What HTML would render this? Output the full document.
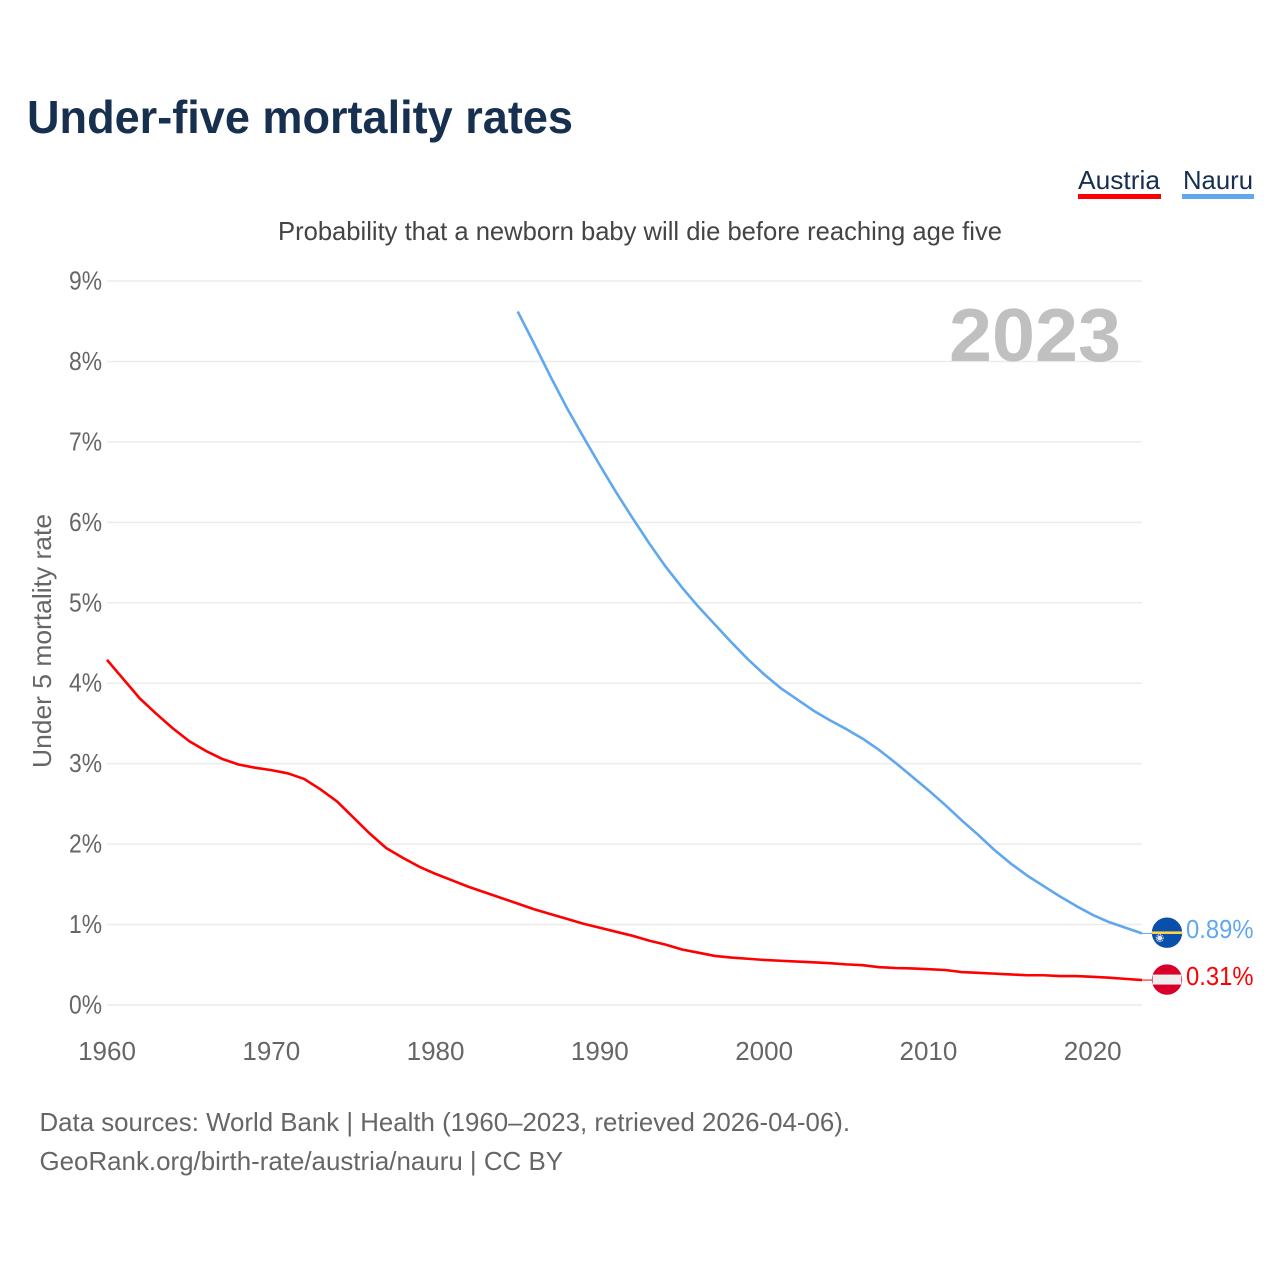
<!DOCTYPE html>
<html lang="en">
<head>
<meta charset="utf-8">
<title>Under-five mortality rates</title>
<style>
html,body{margin:0;padding:0;background:#fff;}
svg{display:block;}
text{font-family:"Liberation Sans",sans-serif;}
</style>
</head>
<body>
<svg id="chart" xmlns="http://www.w3.org/2000/svg" width="1280" height="1280" viewBox="0 0 1280 1280">
  <rect x="0" y="0" width="1280" height="1280" fill="#ffffff"/>
  <text x="27" y="133" font-size="46" font-weight="700" fill="#17304f" textLength="546" lengthAdjust="spacingAndGlyphs">Under-five mortality rates</text>
  <g>
    <text x="1078" y="189" font-size="26" fill="#17304f" textLength="82" lengthAdjust="spacingAndGlyphs">Austria</text>
    <rect x="1078" y="194" width="83" height="5" fill="#ff0000"/>
  </g>
  <g>
    <text x="1183" y="189" font-size="26" fill="#17304f" textLength="70" lengthAdjust="spacingAndGlyphs">Nauru</text>
    <rect x="1182" y="194" width="72" height="5" fill="#5fa8ee"/>
  </g>
  <text x="278" y="240" font-size="26" fill="#444444" textLength="724" lengthAdjust="spacingAndGlyphs">Probability that a newborn baby will die before reaching age five</text>
  <g id="grid"></g>
  <g id="yticks"></g>
  <g id="xticks"></g>
  <text transform="translate(51,641) rotate(-90)" text-anchor="middle" font-size="26" fill="#666666" textLength="254" lengthAdjust="spacingAndGlyphs">Under 5 mortality rate</text>
  <text x="949" y="361" font-size="75" font-weight="700" fill="#c0c0c0" textLength="172" lengthAdjust="spacingAndGlyphs">2023</text>
  <g id="series"></g>
  <g id="endmarks"></g>
  <text x="39.5" y="1131" font-size="26" fill="#666666" textLength="810.5" lengthAdjust="spacingAndGlyphs">Data sources: World Bank | Health (1960–2023, retrieved 2026-04-06).</text>
  <text x="39.5" y="1170" font-size="26" fill="#666666" textLength="523.5" lengthAdjust="spacingAndGlyphs">GeoRank.org/birth-rate/austria/nauru | CC BY</text>
</svg>
<script>
const years = [1960,1961,1962,1963,1964,1965,1966,1967,1968,1969,1970,1971,1972,1973,1974,1975,1976,1977,1978,1979,1980,1981,1982,1983,1984,1985,1986,1987,1988,1989,1990,1991,1992,1993,1994,1995,1996,1997,1998,1999,2000,2001,2002,2003,2004,2005,2006,2007,2008,2009,2010,2011,2012,2013,2014,2015,2016,2017,2018,2019,2020,2021,2022,2023];
const austria = [4.29,4.05,3.81,3.62,3.44,3.28,3.16,3.06,2.99,2.95,2.92,2.88,2.81,2.68,2.53,2.33,2.13,1.95,1.83,1.72,1.63,1.55,1.47,1.40,1.33,1.26,1.19,1.13,1.07,1.01,0.96,0.91,0.86,0.80,0.75,0.69,0.65,0.61,0.59,0.575,0.56,0.55,0.54,0.53,0.52,0.505,0.495,0.47,0.46,0.455,0.445,0.435,0.41,0.40,0.39,0.38,0.37,0.37,0.36,0.36,0.35,0.34,0.325,0.31];
const nauru = [null,null,null,null,null,null,null,null,null,null,null,null,null,null,null,null,null,null,null,null,null,null,null,null,null,8.62,8.22,7.81,7.42,7.06,6.71,6.37,6.05,5.74,5.45,5.19,4.95,4.73,4.51,4.30,4.11,3.94,3.80,3.66,3.54,3.43,3.31,3.17,3.01,2.84,2.67,2.49,2.30,2.12,1.93,1.76,1.61,1.48,1.35,1.23,1.12,1.03,0.96,0.89];
const yTickValues = [0,1,2,3,4,5,6,7,8,9];
const xTickValues = [1960,1970,1980,1990,2000,2010,2020];

const NS = 'http://www.w3.org/2000/svg';
const plotLeft = 107, plotRight = 1142, plotBottom = 1005, plotTop = 281;
function xScale(year){ return plotLeft + (year - 1960) * (plotRight - plotLeft) / (2023 - 1960); }
function yScale(value){ return plotBottom - value * (plotBottom - plotTop) / 9; }
function make(tag, attrs, parent){
  const el = document.createElementNS(NS, tag);
  for (const k in attrs) el.setAttribute(k, attrs[k]);
  parent.appendChild(el);
  return el;
}

const grid = document.getElementById('grid');
const yticks = document.getElementById('yticks');
const xticks = document.getElementById('xticks');
const seriesGroup = document.getElementById('series');
const endmarks = document.getElementById('endmarks');

yTickValues.forEach(function(v){
  const line = make('line', {x1: plotLeft, x2: plotRight, y1: yScale(v), y2: yScale(v), stroke: '#ececec', 'stroke-width': 1.5}, grid);
  
  
  const label = make('text', {x: 102, y: yScale(v) + 8.5, 'text-anchor': 'end', 'font-size': 26, fill: '#666666', textLength: 33, lengthAdjust: 'spacingAndGlyphs'}, yticks);
  
  
  label.textContent = v + '%';
});

xTickValues.forEach(function(t){
  const label = make('text', {x: xScale(t), y: 1060, 'text-anchor': 'middle', 'font-size': 26, fill: '#666666'}, xticks);
  
  
  label.textContent = t;
});

function pointsFor(values){
  const pts = [];
  values.forEach(function(v, i){
    if (v !== null) pts.push(xScale(years[i]).toFixed(2) + ',' + yScale(v).toFixed(2));
  });
  return pts.join(' ');
}

const austriaLine = make('polyline', {points: pointsFor(austria), fill: 'none', stroke: '#ff0000', 'stroke-width': 2.6, 'stroke-linejoin': 'round'}, seriesGroup);



const nauruLine = make('polyline', {points: pointsFor(nauru), fill: 'none', stroke: '#5fa8ee', 'stroke-width': 2.6, 'stroke-linejoin': 'round'}, seriesGroup);



const austriaLast = austria[austria.length - 1];
const nauruLast = nauru[nauru.length - 1];

const austriaConnector = make('line', {x1: plotRight, x2: 1152, y1: yScale(austriaLast), y2: yScale(austriaLast), stroke: '#ff0000', 'stroke-width': 1}, endmarks);



const nauruConnector = make('line', {x1: plotRight, x2: 1152, y1: yScale(nauruLast), y2: yScale(nauruLast), stroke: '#5fa8ee', 'stroke-width': 1}, endmarks);



const flagNauru = make('g', {transform: 'translate(1167,' + (yScale(nauruLast) - 0.7) + ')'}, endmarks);


make('circle', {cx: 0, cy: 0, r: 15.2, fill: '#0a50ab'}, flagNauru);
make('rect', {x: -15, y: -1.3, width: 30, height: 2.6, fill: '#ffd24a'}, flagNauru);
make('circle', {cx: -7.3, cy: 5.4, r: 2.4, fill: '#e4e8ee'}, flagNauru);
make('circle', {cx: -7.3, cy: 5.4, r: 3.4, fill: 'none', stroke: '#e4e8ee', 'stroke-width': 1.2, 'stroke-dasharray': '1 0.8'}, flagNauru);

const flagAustria = make('g', {transform: 'translate(1167,' + (yScale(austriaLast) - 0.5) + ')'}, endmarks);


make('circle', {cx: 0, cy: 0, r: 15.2, fill: '#d8002b'}, flagAustria);
make('rect', {x: -14.4, y: -5, width: 28.8, height: 10, fill: '#eeeeee'}, flagAustria);

const nauruValue = make('text', {x: 1186, y: yScale(nauruLast) + 4.5, 'font-size': 26, fill: '#5fa8ee', textLength: 67.5, lengthAdjust: 'spacingAndGlyphs'}, endmarks);


nauruValue.textContent = nauruLast.toFixed(2) + '%';

const austriaValue = make('text', {x: 1186, y: yScale(austriaLast) + 5, 'font-size': 26, fill: '#ff0000', textLength: 67.5, lengthAdjust: 'spacingAndGlyphs'}, endmarks);


austriaValue.textContent = austriaLast.toFixed(2) + '%';
</script>
</body>
</html>
